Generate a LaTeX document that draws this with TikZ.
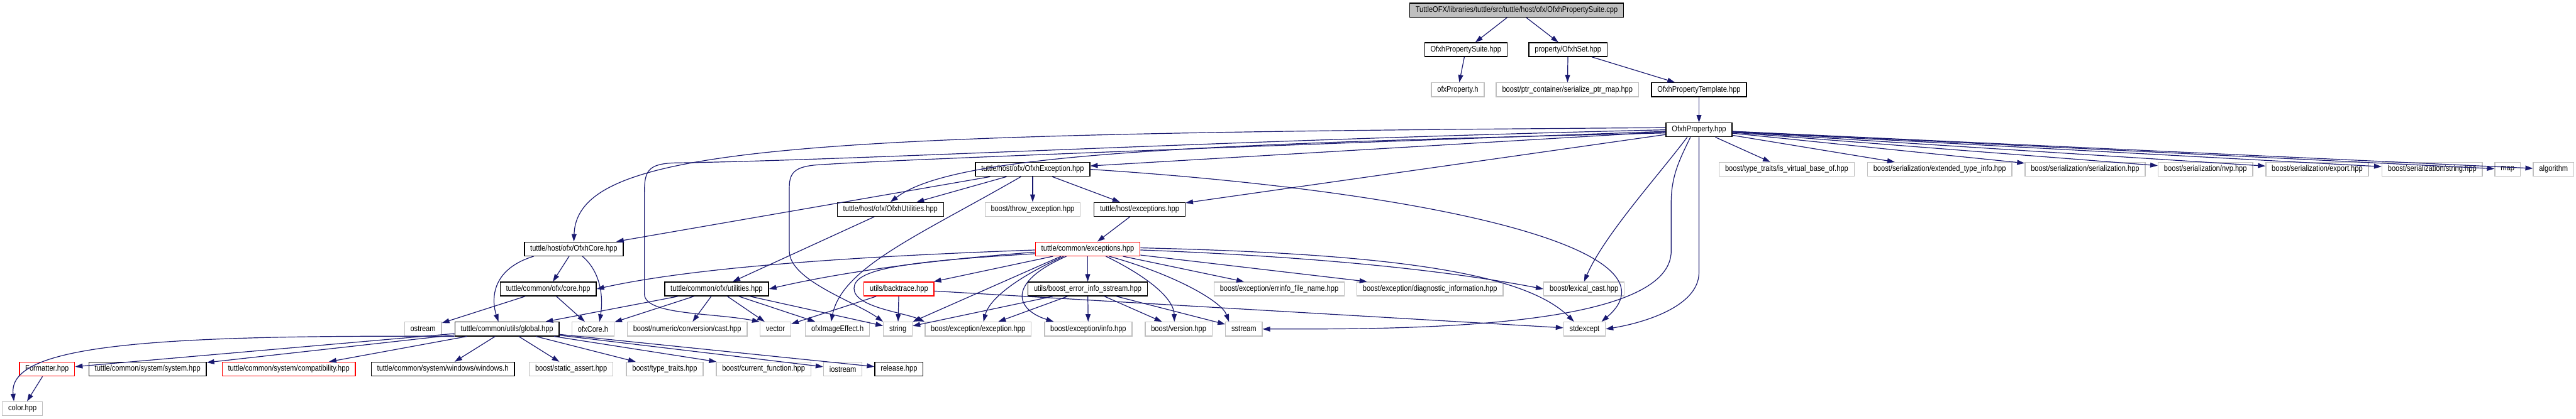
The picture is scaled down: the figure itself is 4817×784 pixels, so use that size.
\documentclass[tikz,border=0pt]{standalone}
\usepackage{fontspec}
\setmainfont{Liberation Sans}[FakeStretch=0.86]
\usetikzlibrary{arrows.meta,calc}

\definecolor{edgeblue}{HTML}{191970}
\definecolor{extgray}{HTML}{BFBFBF}

\begin{document}
\begin{tikzpicture}[
    x=0.5pt, y=-0.5pt,
    >={Triangle[length=7pt,width=4.6pt]},
    file/.style={
        rectangle,
        draw=#1,
        fill=white,
        line width=0.8pt,
        minimum height=13pt,
        inner xsep=5.5pt,
        inner ysep=0pt,
        font=\fontsize{7.6}{8}\selectfont
    },
    file/.default=black,
    ext/.style={file=extgray},
    trunc/.style={file=red},
    root/.style={file=black, fill=extgray},
    dep/.style={->, draw=edgeblue, line width=0.7pt}
]
\useasboundingbox (0,0) rectangle (4817,784);
\fill[white] (0,0) rectangle (4817,784);

% Source file and first includes
\node[root] (root) at (2836,19) {TuttleOFX/libraries/tuttle/src/tuttle/host/ofx/OfxhPropertySuite.cpp};
\node[file] (propsuite) at (2741,93) {OfxhPropertySuite.hpp};
\node[file] (ofxset) at (2932,93) {property/OfxhSet.hpp};
\node[ext] (ofxprop) at (2726,168) {ofxProperty.h};
\node[ext] (ptrmap) at (2931,168) {boost/ptr\_container/serialize\_ptr\_map.hpp};
\node[file] (proptmpl) at (3177,168) {OfxhPropertyTemplate.hpp};
\node[file] (prop) at (3177,243) {OfxhProperty.hpp};

% Row under OfxhProperty
\node[file] (exc) at (1931,317) {tuttle/host/ofx/OfxhException.hpp};
\node[ext] (isvirt) at (3341,317) {boost/type\_traits/is\_virtual\_base\_of.hpp};
\node[ext] (exttype) at (3627,317) {boost/serialization/extended\_type\_info.hpp};
\node[ext] (serial) at (3899,317) {boost/serialization/serialization.hpp};
\node[ext] (nvp) at (4124,317) {boost/serialization/nvp.hpp};
\node[ext] (export) at (4333,317) {boost/serialization/export.hpp};
\node[ext] (sstring) at (4548,317) {boost/serialization/string.hpp};
\node[ext] (map) at (4689,317) {map};
\node[ext] (algo) at (4775,317) {algorithm};

\node[file] (util) at (1665,392) {tuttle/host/ofx/OfxhUtilities.hpp};
\node[ext] (throw) at (1931,392) {boost/throw\_exception.hpp};
\node[file] (hostexc) at (2131,392) {tuttle/host/exceptions.hpp};

\node[file] (core) at (1073,466) {tuttle/host/ofx/OfxhCore.hpp};
\node[trunc] (cexc) at (2034,466) {tuttle/common/exceptions.hpp};

\node[file] (ccore) at (1025,541) {tuttle/common/ofx/core.hpp};
\node[file] (cutil) at (1340,541) {tuttle/common/ofx/utilities.hpp};
\node[trunc] (bt) at (1681,541) {utils/backtrace.hpp};
\node[file] (beis) at (2034,541) {utils/boost\_error\_info\_sstream.hpp};
\node[ext] (errinfo) at (2392,541) {boost/exception/errinfo\_file\_name.hpp};
\node[ext] (diag) at (2674,541) {boost/exception/diagnostic\_information.hpp};
\node[ext] (lexical) at (2962,541) {boost/lexical\_cast.hpp};

% Leaf row
\node[ext] (ostream) at (791,616) {ostream};
\node[file] (global) at (948,616) {tuttle/common/utils/global.hpp};
\node[ext] (ofxcore) at (1109,616) {ofxCore.h};
\node[ext] (cast) at (1285,616) {boost/numeric/conversion/cast.hpp};
\node[ext] (vector) at (1450,616) {vector};
\node[ext] (imgeff) at (1566,616) {ofxImageEffect.h};
\node[ext] (string) at (1679,616) {string};
\node[ext] (bexc) at (1829,616) {boost/exception/exception.hpp};
\node[ext] (binfo) at (2035,616) {boost/exception/info.hpp};
\node[ext] (version) at (2204,616) {boost/version.hpp};
\node[ext] (sstream) at (2326,616) {sstream};
\node[ext] (stdexc) at (2963,616) {stdexcept};

\node[trunc] (formatter) at (88,691) {Formatter.hpp};
\node[file] (system) at (276,691) {tuttle/common/system/system.hpp};
\node[trunc] (compat) at (540,691) {tuttle/common/system/compatibility.hpp};
\node[file] (windows) at (828,691) {tuttle/common/system/windows/windows.h};
\node[ext] (static) at (1068,691) {boost/static\_assert.hpp};
\node[ext] (ttraits) at (1243,691) {boost/type\_traits.hpp};
\node[ext] (curfn) at (1428,691) {boost/current\_function.hpp};
\node[ext] (iostream) at (1576,691) {iostream};
\node[file] (release) at (1681,691) {release.hpp};
\node[ext] (color) at (42,765) {color.hpp};

% Top of the graph
\draw[dep] (root) -- (propsuite);
\draw[dep] (root) -- (ofxset);
\draw[dep] (propsuite) -- (ofxprop);
\draw[dep] (ofxset) -- (ptrmap);
\draw[dep] (ofxset) -- (proptmpl);
\draw[dep] (proptmpl) -- (prop);

% OfxhProperty.hpp
\draw[dep] (prop) -- (exc);
\draw[dep] (prop) -- (hostexc);
\foreach \dst in {isvirt,exttype,serial,nvp,export,sstring,map,algo}
    \draw[dep] (prop) -- (\dst);
\draw[dep] ($(prop.west)+(0,-4)$) .. controls (1500,250) and (1080,270) .. (core.north);
\draw[dep] ($(prop.west)+(0,6)$) .. controls (2200,270) and (1780,290) .. (util.north);
\draw[dep] ($(prop.west)+(0,0)$) .. controls (2300,262) and (1600,300) .. (1260,305)
    .. controls (1212,307) and (1205,320) .. (1205,360) -- (1205,550)
    .. controls (1205,590) and (1330,585) .. (vector.north west);
\draw[dep] ($(prop.west)+(0,3)$) .. controls (2300,275) and (1650,300) .. (1540,308)
    .. controls (1490,310) and (1476,320) .. (1476,350) -- (1476,470)
    .. controls (1476,525) and (1600,565) .. (string.north west);
\draw[dep] ($(prop.south)+(-22,0)$) .. controls (3100,330) and (3000,440) .. (lexical.north);
\draw[dep] ($(prop.south)+(-16,0)$) .. controls (3140,300) and (3125,330) .. (3125,380) -- (3125,470)
    .. controls (3125,620) and (2600,616) .. (sstream.east);
\draw[dep] (prop.south) -- (3177,510) .. controls (3177,575) and (3070,605) .. (stdexc.east);

% OfxhException.hpp
\draw[dep] (exc) -- (util);
\draw[dep] (exc) -- (core);
\draw[dep] (exc) -- (throw);
\draw[dep] (exc) -- (hostexc);
\draw[dep] ($(exc.south)+(-22,0)$) .. controls (1720,440) and (1575,500) .. ($(imgeff.north)+(-12,0)$);
\draw[dep] (exc.east) .. controls (2700,360) and (3150,470) .. ($(stdexc.north east)+(-8,0)$);

\draw[dep] (hostexc) -- (cexc);
\draw[dep] (util) -- (cutil);

% OfxhCore.hpp and common/ofx
\draw[dep] (core) -- (ccore);
\draw[dep] ($(core.south)+(-75,0)$) .. controls (915,505) and (920,565) .. ($(global.north)+(-16,0)$);
\draw[dep] ($(core.south)+(16,0)$) .. controls (1125,510) and (1128,560) .. ($(ofxcore.north)+(12,0)$);
\draw[dep] (ccore) -- (ostream);
\draw[dep] (ccore) -- (ofxcore);
\foreach \dst in {global,ofxcore,cast,vector,imgeff,string}
    \draw[dep] (cutil) -- (\dst);

% tuttle/common/exceptions.hpp
\draw[dep] ($(cexc.west)+(0,2)$) .. controls (1600,480) and (1300,500) .. (ccore.east);
\draw[dep] ($(cexc.west)+(0,6)$) .. controls (1700,490) and (1550,515) .. (cutil.east);
\draw[dep] ($(cexc.west)+(0,9)$) .. controls (1680,490) and (1597,505) .. (1597,540)
    .. controls (1597,575) and (1690,585) .. (bexc.north west);
\draw[dep] (cexc) -- (bt);
\draw[dep] ($(cexc.south)+(-50,0)$) -- (string.north east);
\draw[dep] ($(cexc.south)+(-45,0)$) .. controls (1900,520) and (1850,560) .. ($(bexc.north)+(10,0)$);
\draw[dep] ($(cexc.south)+(-40,0)$) .. controls (1880,530) and (1900,580) .. ($(binfo.north west)+(18,0)$);
\draw[dep] (cexc) -- (beis);
\draw[dep] ($(cexc.south)+(34,0)$) .. controls (2150,520) and (2195,560) .. ($(version.north)+(-8,0)$);
\draw[dep] ($(cexc.south)+(40,0)$) .. controls (2200,515) and (2285,565) .. ($(sstream.north)+(-28,0)$);
\draw[dep] (cexc) -- (errinfo);
\draw[dep] (cexc) -- (diag);
\draw[dep] ($(cexc.east)+(0,2)$) .. controls (2450,480) and (2700,505) .. (lexical.west);
\draw[dep] ($(cexc.east)+(0,-2)$) .. controls (2600,475) and (2850,510) .. ($(stdexc.north west)+(20,0)$);

% utils
\foreach \dst in {string,bexc,binfo,version,sstream}
    \draw[dep] (beis) -- (\dst);
\foreach \dst in {vector,string,stdexc}
    \draw[dep] (bt) -- (\dst);

% global.hpp
\foreach \dst in {formatter,system,compat,windows,static,ttraits,curfn,iostream,release}
    \draw[dep] (global) -- (\dst);
\draw[dep] (global.south west) .. controls (250,626) and (15,650) .. ($(color.north)+(-16,0)$);
\draw[dep] (formatter) -- (color);

\end{tikzpicture}
\end{document}
